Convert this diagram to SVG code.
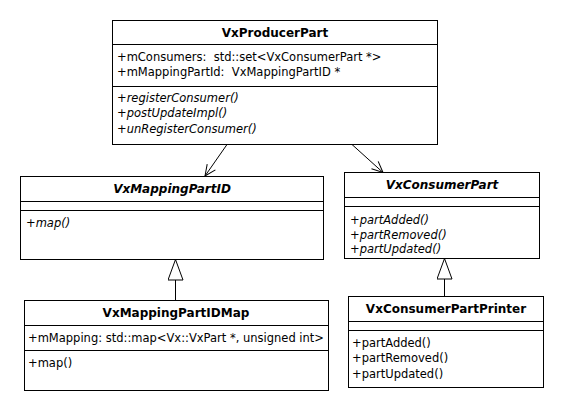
<svg xmlns="http://www.w3.org/2000/svg" width="564" height="412" viewBox="0 0 564 412">
<style>
rect.box{fill:#fff;stroke:#000;stroke-width:1}
line.sep{stroke:#000;stroke-width:1}
text{font-family:"DejaVu Sans","Liberation Sans",sans-serif;font-size:11.5px;fill:#000}
.t{font-weight:bold;text-anchor:middle;font-size:12px}
.i{font-style:italic}
.c{stroke:#000;stroke-width:1;fill:none}
</style>
<defs>
<marker id="open" markerWidth="14" markerHeight="14" refX="12" refY="6" orient="auto" markerUnits="userSpaceOnUse">
<path d="M1,1 L12,6 L1,11" fill="none" stroke="#000"/>
</marker>
<marker id="gen" markerWidth="24" markerHeight="20" refX="21" refY="8" orient="auto" markerUnits="userSpaceOnUse">
<path d="M0.5,0.5 L21,8 L0.5,15.5 Z" fill="#fff" stroke="#000"/>
</marker>
</defs>
<rect width="564" height="412" fill="#fff"/>
<g id="connectors">
<line class="c" x1="227" y1="144.5" x2="205" y2="176" marker-end="url(#open)"/>
<line class="c" x1="352" y1="144.5" x2="383" y2="172.5" marker-end="url(#open)"/>
<line class="c" x1="175.5" y1="300.5" x2="175.5" y2="259.5" marker-end="url(#gen)"/>
<line class="c" x1="444.5" y1="296.5" x2="444.5" y2="258.5" marker-end="url(#gen)"/>
</g>
<g id="VxProducerPart">
<rect class="box" x="112.5" y="20.5" width="325" height="124"/>
<line class="sep" x1="112.5" y1="44.5" x2="437.5" y2="44.5"/>
<line class="sep" x1="112.5" y1="86.5" x2="437.5" y2="86.5"/>
<text class="t" x="275" y="37">VxProducerPart</text>
<text x="117" y="61" xml:space="preserve">+mConsumers:  std::set&lt;VxConsumerPart *&gt;</text>
<text x="117" y="76" xml:space="preserve">+mMappingPartId:  VxMappingPartID *</text>
<text class="i" x="117" y="102">+registerConsumer()</text>
<text class="i" x="117" y="117">+postUpdateImpl()</text>
<text class="i" x="117" y="133">+unRegisterConsumer()</text>
</g>
<g id="VxMappingPartID">
<rect class="box" x="20.5" y="176.5" width="303" height="83"/>
<line class="sep" x1="20.5" y1="201.5" x2="323.5" y2="201.5"/>
<line class="sep" x1="20.5" y1="210.5" x2="323.5" y2="210.5"/>
<text class="t i" x="172" y="193">VxMappingPartID</text>
<text class="i" x="26" y="227">+map()</text>
</g>
<g id="VxConsumerPart">
<rect class="box" x="344.5" y="172.5" width="195" height="86"/>
<line class="sep" x1="344.5" y1="197.5" x2="539.5" y2="197.5"/>
<line class="sep" x1="344.5" y1="206.5" x2="539.5" y2="206.5"/>
<text class="t i" x="442" y="189">VxConsumerPart</text>
<text class="i" x="350" y="224">+partAdded()</text>
<text class="i" x="350" y="239">+partRemoved()</text>
<text class="i" x="350" y="253">+partUpdated()</text>
</g>
<g id="VxMappingPartIDMap">
<rect class="box" x="24.5" y="300.5" width="304" height="90"/>
<line class="sep" x1="24.5" y1="325.5" x2="328.5" y2="325.5"/>
<line class="sep" x1="24.5" y1="350.5" x2="328.5" y2="350.5"/>
<text class="t" x="176" y="317">VxMappingPartIDMap</text>
<text x="28" y="342">+mMapping: std::map&lt;Vx::VxPart *, unsigned int&gt;</text>
<text x="28" y="367">+map()</text>
</g>
<g id="VxConsumerPartPrinter">
<rect class="box" x="348.5" y="296.5" width="195" height="91"/>
<line class="sep" x1="348.5" y1="321.5" x2="543.5" y2="321.5"/>
<line class="sep" x1="348.5" y1="330.5" x2="543.5" y2="330.5"/>
<text class="t" x="446" y="313">VxConsumerPartPrinter</text>
<text x="352" y="347">+partAdded()</text>
<text x="352" y="362">+partRemoved()</text>
<text x="352" y="378">+partUpdated()</text>
</g>
</svg>
